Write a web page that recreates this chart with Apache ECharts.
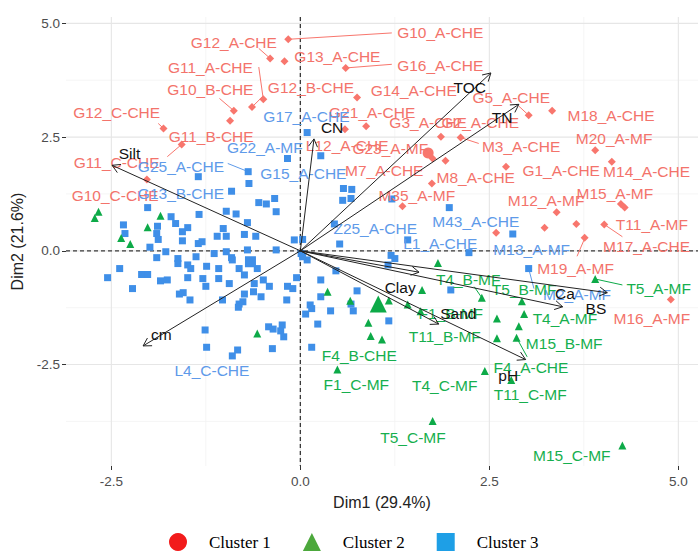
<!DOCTYPE html>
<html><head><meta charset="utf-8">
<script src="https://cdn.jsdelivr.net/npm/echarts@6/dist/echarts.min.js"></script>
<style>html,body{margin:0;padding:0;background:#fff}#c{width:698px;height:551px}</style>
</head><body><div id="c"></div>
<script>
// ---------- data ----------
const xTicks = [-2.5, 0, 2.5, 5];
const yTicks = [-2.5, 0, 2.5, 5];
const xMinor = [-1.25, 1.25, 3.75];
const yMinor = [-3.75, -1.25, 1.25, 3.75];
const legendNames = ['Cluster 1', 'Cluster 2', 'Cluster 3'];
const xTitle = 'Dim1 (29.4%)';
const yTitle = 'Dim2 (21.6%)';

const cluster1Points = [[-0.16,4.65],[-0.40,4.23],[-0.21,4.17],[0.60,4.02],[-0.49,3.33],[-0.64,3.16],[-0.88,3.08],[-1.81,2.69],[-0.93,2.86],[-1.57,2.34],[-2.03,1.57],[0.75,3.37],[0.87,2.74],[0.59,2.67],[1.86,2.51],[2.12,2.49],[1.75,2.03],[1.92,1.98],[1.74,1.48],[1.35,0.98],[3.02,2.98],[3.33,3.08],[3.90,2.21],[2.72,1.85],[4.12,1.96],[3.39,0.85],[4.29,0.95],[4.24,1.03],[4.02,0.58],[3.76,0.29],[4.90,-1.07],[3.23,0.51],[3.65,0.59],[2.59,0.40]];
const cluster2Points = [[-2.67,0.86],[-2.72,0.72],[-1.85,0.77],[-2.02,0.52],[-2.37,0.28],[-2.25,0.15],[0.36,-0.90],[-0.57,-1.82],[0.49,-2.61],[1.82,-0.27],[0.66,-1.10],[1.17,-1.09],[1.61,-0.86],[2.40,-1.03],[0.90,-1.58],[0.93,-1.87],[1.08,-1.95],[2.60,-1.49],[2.89,-1.66],[2.60,-1.92],[2.86,-1.91],[2.96,-1.39],[2.93,-1.11],[2.44,-2.64],[2.79,-2.84],[1.59,-1.33],[1.42,-1.18],[3.90,-0.62],[1.75,-3.74],[4.26,-4.28]];
const cluster3Points = [[-0.17,2.03],[-0.69,1.74],[-0.68,1.48],[-1.35,1.63],[-0.91,1.31],[-0.55,1.06],[-0.45,1.03],[-0.34,1.15],[-0.32,0.86],[-0.98,0.87],[-0.85,0.81],[-1.34,0.80],[-2.02,0.95],[-1.71,0.75],[-1.65,0.60],[-1.49,0.51],[-1.56,0.42],[-1.89,0.54],[-2.34,0.57],[-2.32,0.38],[-1.90,0.38],[-1.88,0.25],[-1.99,0.08],[-1.78,-0.02],[-1.56,0.22],[-1.35,0.16],[-1.30,0.20],[-1.10,0.32],[-0.98,0.32],[-1.02,0.49],[-0.70,0.62],[-0.74,0.36],[-0.59,0.32],[-0.70,0.02],[-0.98,-0.02],[-0.91,-0.15],[-1.14,-0.06],[-1.38,-0.13],[-1.62,-0.17],[-1.62,-0.28],[-1.49,-0.31],[-1.45,-0.39],[-1.90,-0.15],[-1.24,-0.34],[-1.08,-0.39],[-0.81,-0.39],[-0.57,-0.39],[-0.90,-0.20],[-0.32,0.02],[-0.08,0.24],[0.01,-0.06],[0.09,-0.20],[-2.39,-0.39],[-2.55,-0.59],[-2.10,-0.52],[-2.02,-0.52],[-1.85,-0.66],[-1.76,-0.64],[-1.49,-0.59],[-1.29,-0.61],[-1.25,-0.78],[-1.08,-0.61],[-0.94,-0.72],[-0.74,-0.53],[-0.61,-0.72],[-0.49,-0.64],[-0.41,-0.78],[-0.62,-0.90],[-0.74,-0.95],[-0.52,-1.01],[-0.17,-0.78],[-0.10,-0.83],[-0.05,-0.59],[-0.18,-1.08],[-2.22,-0.83],[-1.60,-0.95],[-1.55,-0.92],[-1.46,-1.08],[-1.03,-1.08],[-0.81,-1.17],[-0.82,-1.24],[-0.76,-1.12],[-1.26,-1.74],[-1.24,-2.12],[-0.90,-2.31],[-0.83,-2.18],[-0.42,-1.67],[-0.36,-1.72],[-0.24,-1.63],[-0.26,-1.76],[-0.22,-1.89],[-0.37,-2.15],[0.13,-1.19],[0.15,-1.27],[0.07,-1.39],[0.27,-1.01],[0.40,-1.32],[0.23,-1.61],[0.15,-2.12],[0.52,0.15],[0.03,-0.13],[0.27,-0.64],[0.47,-0.44],[0.75,-0.88],[0.67,-1.17],[0.70,-1.32],[1.17,-1.54],[1.20,-0.10],[1.25,-0.17],[1.16,-0.31],[1.99,-0.86],[2.23,-0.04],[3.02,-0.39],[0.09,2.60],[0.27,2.09],[0.56,1.11],[0.67,1.15],[0.57,1.37],[0.68,1.35],[1.21,1.14],[1.97,0.95],[0.45,0.59],[1.42,0.24],[0.03,0.25],[2.81,0.37]];
const centroid1 = [[1.69,2.15]];
const centroid2 = [[1.03,-1.17]];
const centroid3 = [[-0.66,-0.24]];

const cluster1Labels = [['G10_A-CHE',1.85,4.79],['G12_A-CHE',-0.88,4.59],['G13_A-CHE',0.49,4.28],['G16_A-CHE',1.85,4.08],['G11_A-CHE',-1.19,4.04],['G12_B-CHE',0.14,3.60],['G10_B-CHE',-1.19,3.55],['G12_C-CHE',-2.43,3.03],['G11_B-CHE',-1.18,2.52],['G11_C-CHE',-2.43,1.95],['G10_C-CHE',-2.45,1.22],['G14_A-CHE',1.50,3.53],['G21_A-CHE',0.95,3.03],['L12_A-CHE',0.62,2.32],['G3_A-CHE',1.69,2.81],['G2_A-CHE',2.38,2.83],['M3_A-CHE',2.92,2.30],['G23_A-MF',1.19,2.26],['M7_A-CHE',1.11,1.77],['M8_A-CHE',2.32,1.62],['M35_A-MF',1.54,1.22],['G5_A-CHE',2.79,3.36],['M18_A-CHE',4.11,2.98],['M20_A-MF',4.15,2.48],['G1_A-CHE',3.45,1.77],['M14_A-CHE',4.58,1.75],['M12_A-MF',3.25,1.11],['M15_A-MF',4.16,1.25],['T11_A-MF',4.65,0.57],['M17_A-CHE',4.58,0.10],['M19_A-MF',3.64,-0.38],['M16_A-MF',4.65,-1.48]];
const cluster2Labels = [['T4_B-MF',2.22,-0.62],['T5_B-MF',2.96,-0.86],['T5_A-MF',4.74,-0.82],['F1_B-MF',1.99,-1.37],['T4_A-MF',3.50,-1.48],['T11_B-MF',1.91,-1.88],['M15_B-MF',3.49,-2.03],['F4_B-CHE',0.78,-2.29],['F4_A-CHE',3.05,-2.56],['F1_C-MF',0.74,-2.93],['T4_C-MF',1.91,-2.95],['T11_C-MF',3.04,-3.15],['T5_C-MF',1.49,-4.10],['M15_C-MF',3.59,-4.51]];
const cluster3Labels = [['G17_A-CHE',0.08,2.96],['G22_A-MF',-0.47,2.28],['G25_A-CHE',-1.58,1.86],['G15_A-CHE',0.04,1.69],['G13_B-CHE',-1.58,1.27],['Z25_A-CHE',0.99,0.50],['L1_A-CHE',1.85,0.17],['M43_A-CHE',2.32,0.65],['M13_A-MF',3.06,0.02],['M2_A-MF',3.66,-0.95],['L4_C-CHE',-1.17,-2.64]];

const cluster1Segments = [[-0.16,4.65,1.21,4.79],[0.60,4.02,1.21,4.10],[-0.55,4.45,-0.40,4.23],[-0.55,4.04,-0.49,3.33],[-0.50,3.39,-0.64,3.16],[-1.07,3.35,-0.88,3.08],[-1.88,2.80,-1.81,2.69],[-1.76,2.07,-1.57,2.34],[2.36,2.36,2.12,2.49],[2.89,3.18,3.02,2.98],[4.02,0.58,4.26,0.31],[3.76,0.27,3.66,-0.12]];
const cluster2Segments = [[3.90,-0.62,4.26,-0.75],[2.30,-0.79,2.40,-1.03],[2.86,-1.91,3.00,-2.33]];
const cluster3Segments = [[-0.96,1.92,-0.69,1.74],[3.02,-0.39,3.09,-0.83]];

const varNames = ['Silt','CN','TOC','TN','Clay','Ca','BS','Sand','pH','cm'];
const varEndX = [-2.49, 0.18, 2.52, 2.89, 1.57, 4.06, 3.47, 1.83, 2.98, -2.08];
const varEndY = [1.88, 2.46, 3.91, 3.22, -0.47, -0.92, -1.23, -1.61, -2.39, -2.09];
const varLabelX = [-2.26, 0.42, 2.24, 2.67, 1.32, 3.50, 3.91, 2.09, 2.75, -1.84];
const varLabelY = [2.15, 2.72, 3.60, 2.92, -0.80, -0.93, -1.26, -1.37, -2.73, -1.85];

// ---------- styles ----------
const RED = '#F8766D', GREEN = '#0DAA48', BLUE = '#3F8FE8';
const RED_T = '#F3736B', GREEN_T = '#16AF4E', BLUE_T = '#5E9AE9';
const FONT = '"Liberation Sans", Arial, sans-serif';

function lineSeries(values, vertical, color, dash, width, z) {
  return {
    type: 'custom', coordinateSystem: 'cartesian2d', silent: true, z: z,
    data: values.map(v => vertical ? [v, 0] : [0, v]),
    encode: { x: 0, y: 1 },
    renderItem(params, api) {
      const cs = params.coordSys;
      const p = api.coord([api.value(0), api.value(1)]);
      const shape = vertical ? { x1: p[0], y1: cs.y, x2: p[0], y2: cs.y + cs.height }
                             : { x1: cs.x, y1: p[1], x2: cs.x + cs.width, y2: p[1] };
      return { type: 'line', shape, style: { stroke: color, lineWidth: width, lineDash: dash } };
    }
  };
}
function segSeries(segs, color) {
  return {
    type: 'custom', coordinateSystem: 'cartesian2d', silent: true, z: 2,
    data: segs, encode: { x: [0, 2], y: [1, 3] },
    renderItem(params, api) {
      const a = api.coord([api.value(0), api.value(1)]);
      const b = api.coord([api.value(2), api.value(3)]);
      return { type: 'line', shape: { x1: a[0], y1: a[1], x2: b[0], y2: b[1] }, style: { stroke: color, lineWidth: 1 } };
    }
  };
}
function labelSeries(labels, color, z) {
  return {
    type: 'custom', coordinateSystem: 'cartesian2d', silent: true, z: z,
    data: labels.map(l => [l[1], l[2]]), encode: { x: 0, y: 1 },
    renderItem(params, api) {
      const p = api.coord([api.value(0), api.value(1)]);
      return { type: 'text', x: p[0], y: p[1],
        style: { text: labels[params.dataIndex][0], fill: color, fontSize: 15.5, fontFamily: FONT, align: 'center', verticalAlign: 'middle' } };
    }
  };
}
function pointSeries(name, pts, symbol, size, color, z) {
  return { name, type: 'scatter', data: pts, symbol, symbolSize: size, itemStyle: { color, opacity: 1 }, z, silent: true };
}

const arrowSeries = {
  type: 'custom', coordinateSystem: 'cartesian2d', silent: true, z: 6,
  data: varEndX.map((x, i) => [0, 0, x, varEndY[i]]), encode: { x: [0, 2], y: [1, 3] },
  renderItem(params, api) {
    const p0 = api.coord([api.value(0), api.value(1)]);
    const p1 = api.coord([api.value(2), api.value(3)]);
    const ang = Math.atan2(p1[1] - p0[1], p1[0] - p0[0]);
    const L = 9, a = Math.PI / 6;
    const h1 = [p1[0] - L * Math.cos(ang - a), p1[1] - L * Math.sin(ang - a)];
    const h2 = [p1[0] - L * Math.cos(ang + a), p1[1] - L * Math.sin(ang + a)];
    return { type: 'group', children: [
      { type: 'line', shape: { x1: p0[0], y1: p0[1], x2: p1[0], y2: p1[1] }, style: { stroke: '#222', lineWidth: 1 } },
      { type: 'polyline', shape: { points: [h1, p1, h2] }, style: { stroke: '#222', lineWidth: 1, fill: null } }
    ] };
  }
};
const varLabels = varNames.map((n, i) => [n, varLabelX[i], varLabelY[i]]);

const chart = echarts.init(document.getElementById('c'), null, { renderer: 'svg' });
chart.setOption({
  animation: false,
  backgroundColor: '#fff',
  grid: { left: 66, top: 17, width: 633, height: 449 },
  xAxis: {
    type: 'value', min: -3.1, max: 5.26,
    axisLine: { show: false, onZero: false }, splitLine: { show: false },
    axisTick: { show: true, customValues: xTicks, length: 4, lineStyle: { color: '#333' } },
    axisLabel: { customValues: xTicks, formatter: v => v.toFixed(1), color: '#4D4D4D', fontSize: 13.5, fontFamily: FONT, margin: 8 },
    name: xTitle, nameLocation: 'middle', nameGap: 28,
    nameTextStyle: { fontSize: 16, color: '#222', fontFamily: FONT }
  },
  yAxis: {
    type: 'value', min: -4.73, max: 5.14,
    axisLine: { show: false, onZero: false }, splitLine: { show: false },
    axisTick: { show: true, customValues: yTicks, length: 4, lineStyle: { color: '#333' } },
    axisLabel: { customValues: yTicks, formatter: v => v.toFixed(1), color: '#4D4D4D', fontSize: 13.5, fontFamily: FONT, margin: 6 },
    name: yTitle, nameLocation: 'middle', nameGap: 33,
    nameTextStyle: { fontSize: 16, color: '#222', fontFamily: FONT }
  },
  legend: {
    left: 164, top: 528, orient: 'horizontal', selectedMode: false,
    itemWidth: 18, itemHeight: 18, itemGap: 32,
    textStyle: { fontFamily: '"Liberation Serif", "Times New Roman", serif', fontSize: 17, color: '#000', padding: [0, 0, 0, 17] },
    data: [
      { name: legendNames[0], icon: 'circle', itemStyle: { color: '#F21B1B' } },
      { name: legendNames[1], icon: 'triangle', itemStyle: { color: '#4CA83C' } },
      { name: legendNames[2], icon: 'rect', itemStyle: { color: '#1E9FE6' } }
    ]
  },
  series: [
    lineSeries(xMinor, true, '#F3F3F3', null, 0.8, 0),
    lineSeries(yMinor, false, '#F3F3F3', null, 0.8, 0),
    lineSeries(xTicks, true, '#E6E6E6', null, 1.1, 0),
    lineSeries(yTicks, false, '#E6E6E6', null, 1.1, 0),
    lineSeries([0], true, '#3A3A3A', [4, 3], 1.3, 1),
    lineSeries([0], false, '#3A3A3A', [4, 3], 1.3, 1),
    segSeries(cluster1Segments, RED),
    segSeries(cluster2Segments, GREEN),
    segSeries(cluster3Segments, BLUE_T),
    pointSeries(legendNames[2], cluster3Points, 'rect', 7, BLUE, 3),
    pointSeries(legendNames[1], cluster2Points, 'triangle', 8, GREEN, 3),
    pointSeries(legendNames[0], cluster1Points, 'diamond', 8, RED, 3),
    pointSeries('centroid3', centroid3, 'rect', 11, BLUE, 3),
    pointSeries('centroid2', centroid2, 'triangle', 17, GREEN, 3),
    pointSeries('centroid1', centroid1, 'circle', 11, RED, 3),
    labelSeries(cluster1Labels, RED_T, 4),
    labelSeries(cluster3Labels, BLUE_T, 4),
    labelSeries(cluster2Labels, GREEN_T, 4),
    arrowSeries,
    labelSeries(varLabels, '#111', 7)
  ]
});
</script></body></html>
